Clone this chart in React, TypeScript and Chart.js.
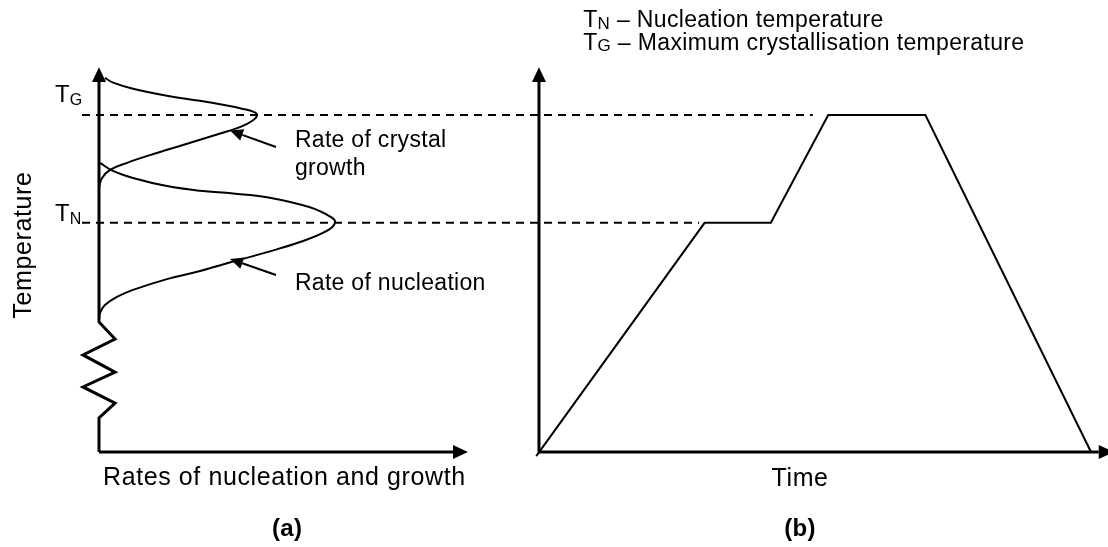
import React, { useEffect, useRef } from "react";
import { Chart, registerables } from "chart.js";

Chart.register(...registerables);

// ---------- data (temperature in arbitrary units, T_G = 100) ----------
const T_N = 68;
const T_G = 100;

// (b) heat-treatment schedule: time vs temperature
const scheduleTime = [-0.5, 30, 42, 52.4, 70, 100];
const scheduleTemp = [-1.2, T_N, T_N, T_G, T_G, 0];

// (a) rate of nucleation (rate, temperature) – bottom to top
const nucleationRate = [0, 0.004, 0.025, 0.076, 0.144, 0.288, 0.428, 0.568, 0.712, 0.852, 0.965, 1.0, 0.985, 0.894, 0.712, 0.568, 0.428, 0.288, 0.144, 0.059, 0.004];
const nucleationTemp = [39.2, 41.2, 43.6, 46.0, 48.1, 51.3, 53.7, 56.5, 59.3, 62.3, 65.6, 68.0, 69.6, 72.6, 75.6, 76.7, 77.5, 78.9, 81.3, 83.4, 85.8];

// (a) rate of crystal growth (rate, temperature) – bottom to top
const growthRate = [0, 0.013, 0.047, 0.119, 0.216, 0.356, 0.5, 0.597, 0.65, 0.67, 0.653, 0.61, 0.542, 0.428, 0.288, 0.144, 0.06, 0.025];
const growthTemp = [78.6, 81.3, 83.7, 85.8, 88.1, 91.1, 94.2, 96.4, 98.3, 100.0, 101.0, 101.8, 102.8, 104.2, 105.7, 107.8, 109.6, 111.0];

// axis break (zig-zag) on the temperature axis of (a)
const breakRate = [0, 0, 0.068, -0.068, 0.068, -0.068, 0.068, 0, 0];
const breakTemp = [0, 10.1, 14.5, 19.3, 23.7, 28.8, 33.5, 38.6, 109.8];

// axis extents
const AXIS_TOP_T = 109.8; // arrow-head base
const AXIS_TIP_T = 114.2;
const RATE_AXIS_END = 1.5;
const RATE_AXIS_TIP = 1.563;
const TIME_AXIS_END = 101.4;
const TIME_AXIS_TIP = 104.2;

// reference lines
const refLeftStart = -0.072; // rate units
const refTG_end = 49.6; // time units
const refTN_end = 29.0;

// pointer arrows [tailRate, tailTemp, tipRate, tipTemp]
const growthPointer = [0.75, 90.5, 0.555, 95.4];
const nucleationPointer = [0.75, 52.5, 0.555, 57.3];

// ---------- scale ranges ----------
const Y_MIN = -28.19;
const Y_MAX = 134.12;
const TIME_MIN = -97.64;
const TIME_MAX = 103.08;
const RATE_MIN = -0.4195;
const RATE_MAX = 4.2754;

const FONT = '"Liberation Sans", Arial, Helvetica, sans-serif';

const zip = (xs: number[], ys: number[]) => xs.map((x, i) => ({ x, y: ys[i] }));

function head(ctx: CanvasRenderingContext2D, bx: number, by: number, tx: number, ty: number, halfW: number) {
  const dx = tx - bx;
  const dy = ty - by;
  const len = Math.hypot(dx, dy) || 1;
  const nx = -dy / len;
  const ny = dx / len;
  ctx.beginPath();
  ctx.moveTo(tx, ty);
  ctx.lineTo(bx + nx * halfW, by + ny * halfW);
  ctx.lineTo(bx - nx * halfW, by - ny * halfW);
  ctx.closePath();
  ctx.fill();
}

function subLabel(
  ctx: CanvasRenderingContext2D,
  x: number,
  y: number,
  main: string,
  sub: string,
  rest: string,
  mainFont: string,
  subFont: string,
  subDy: number,
  spacing: string
) {
  (ctx as any).letterSpacing = spacing;
  ctx.textAlign = "left";
  ctx.textBaseline = "alphabetic";
  ctx.font = mainFont;
  ctx.fillText(main, x, y);
  let w = ctx.measureText(main).width;
  ctx.font = subFont;
  ctx.fillText(sub, x + w, y + subDy);
  w += ctx.measureText(sub).width;
  if (rest) {
    ctx.font = mainFont;
    ctx.fillText(rest, x + w, y);
  }
  (ctx as any).letterSpacing = "0px";
}

function text(
  ctx: CanvasRenderingContext2D,
  s: string,
  x: number,
  y: number,
  font: string,
  align: CanvasTextAlign,
  spacing: string
) {
  (ctx as any).letterSpacing = spacing;
  ctx.font = font;
  ctx.textAlign = align;
  ctx.textBaseline = "alphabetic";
  ctx.fillText(s, x, y);
  (ctx as any).letterSpacing = "0px";
}

const diagramPlugin = {
  id: "diagram",
  beforeDraw(chart: any) {
    const { ctx, width, height } = chart;
    ctx.save();
    ctx.fillStyle = "#ffffff";
    ctx.fillRect(0, 0, width, height);
    ctx.restore();
  },
  afterDatasetsDraw(chart: any) {
    const ctx: CanvasRenderingContext2D = chart.ctx;
    const xr = chart.scales.xr;
    const xt = chart.scales.x;
    const ys = chart.scales.y;
    const R = (v: number) => xr.getPixelForValue(v);
    const X = (v: number) => xt.getPixelForValue(v);
    const Y = (v: number) => ys.getPixelForValue(v);

    ctx.save();
    ctx.fillStyle = "#000";
    ctx.strokeStyle = "#000";

    // axis arrow heads
    head(ctx, R(0), Y(AXIS_TOP_T), R(0), Y(AXIS_TIP_T), 7);
    head(ctx, X(0), Y(AXIS_TOP_T), X(0), Y(AXIS_TIP_T), 7);
    head(ctx, R(RATE_AXIS_END), Y(0), R(RATE_AXIS_TIP), Y(0), 7);
    head(ctx, X(TIME_AXIS_END), Y(0), X(TIME_AXIS_TIP), Y(0), 7);

    // dashed reference lines T_G and T_N
    ctx.lineWidth = 2;
    ctx.setLineDash([8, 6]);
    ctx.beginPath();
    ctx.moveTo(R(refLeftStart), Y(T_G));
    ctx.lineTo(X(refTG_end), Y(T_G));
    ctx.moveTo(R(refLeftStart), Y(T_N));
    ctx.lineTo(X(refTN_end), Y(T_N));
    ctx.stroke();
    ctx.setLineDash([]);

    // pointer arrows
    for (const p of [growthPointer, nucleationPointer]) {
      const tx = R(p[0]), ty = Y(p[1]), hx = R(p[2]), hy = Y(p[3]);
      const dx = hx - tx, dy = hy - ty;
      const L = Math.hypot(dx, dy);
      const bx = hx - (dx / L) * 13, by = hy - (dy / L) * 13;
      ctx.lineWidth = 2;
      ctx.beginPath();
      ctx.moveTo(tx, ty);
      ctx.lineTo(bx, by);
      ctx.stroke();
      head(ctx, bx, by, hx, hy, 6);
    }

    // T_G / T_N labels on (a)
    subLabel(ctx, R(-0.186), Y(T_G) - 12.5, "T", "G", "", `24px ${FONT}`, `16px ${FONT}`, 3, "0px");
    subLabel(ctx, R(-0.186), Y(T_N) - 2, "T", "N", "", `24px ${FONT}`, `16px ${FONT}`, 3, "0px");

    // annotations
    const annFont = `23px ${FONT}`;
    text(ctx, "Rate of crystal", R(0.83), Y(90.5), annFont, "left", "0.3px");
    text(ctx, "growth", R(0.83), Y(82.2), annFont, "left", "0.3px");
    text(ctx, "Rate of nucleation", R(0.83), Y(48.1), annFont, "left", "0.3px");

    // legend
    const lf = `23px ${FONT}`;
    const lsf = `17px ${FONT}`;
    subLabel(ctx, X(8.0), Y(126.1), "T", "N", " \u2013 Nucleation temperature", lf, lsf, 1.5, "0.35px");
    subLabel(ctx, X(8.0), Y(119.3), "T", "G", " \u2013 Maximum crystallisation temperature", lf, lsf, 1.5, "0.35px");

    // axis titles
    const tf = `25px ${FONT}`;
    text(ctx, "Rates of nucleation and growth", R(0.017), Y(-9.8), tf, "left", "0.6px");
    text(ctx, "Time", X(47.3), Y(-10.1), tf, "center", "0.6px");

    ctx.save();
    ctx.translate(R(-0.289), Y(61.4));
    ctx.rotate(-Math.PI / 2);
    text(ctx, "Temperature", 0, 0, tf, "center", "0.6px");
    ctx.restore();

    // panel captions
    const bf = `bold 24px ${FONT}`;
    text(ctx, "(a)", R(0.797), Y(-24.9), bf, "center", "0.3px");
    text(ctx, "(b)", X(47.3), Y(-24.9), bf, "center", "0.3px");

    ctx.restore();
  },
};

export default function App() {
  const ref = useRef<HTMLCanvasElement | null>(null);

  useEffect(() => {
    if (!ref.current) return;
    const base = {
      borderColor: "#000",
      pointRadius: 0,
      pointHoverRadius: 0,
      fill: false,
    };
    const chart = new Chart(ref.current, {
      type: "line",
      data: {
        datasets: [
          { ...base, label: "schedule", xAxisID: "x", yAxisID: "y", data: zip(scheduleTime, scheduleTemp), borderWidth: 2, tension: 0, borderJoinStyle: "miter" },
          { ...base, label: "growth", xAxisID: "xr", yAxisID: "y", data: zip(growthRate, growthTemp), borderWidth: 2, tension: 0.4 },
          { ...base, label: "nucleation", xAxisID: "xr", yAxisID: "y", data: zip(nucleationRate, nucleationTemp), borderWidth: 2, tension: 0.4 },
          { ...base, label: "axisA-T", xAxisID: "xr", yAxisID: "y", data: zip(breakRate, breakTemp), borderWidth: 3, tension: 0, borderJoinStyle: "miter" },
          { ...base, label: "axisA-R", xAxisID: "xr", yAxisID: "y", data: zip([0, RATE_AXIS_END], [0, 0]), borderWidth: 3, tension: 0 },
          { ...base, label: "axisB-T", xAxisID: "x", yAxisID: "y", data: zip([0, 0], [0, AXIS_TOP_T]), borderWidth: 3, tension: 0 },
          { ...base, label: "axisB-t", xAxisID: "x", yAxisID: "y", data: zip([0, TIME_AXIS_END], [0, 0]), borderWidth: 3, tension: 0 },
        ] as any,
      },
      options: {
        animation: false,
        responsive: false,
        devicePixelRatio: 1,
        events: [],
        layout: { padding: 0, autoPadding: false },
        plugins: {
          legend: { display: false },
          title: { display: false },
          tooltip: { enabled: false },
        },
        scales: {
          x: { type: "linear", axis: "x", min: TIME_MIN, max: TIME_MAX, display: false },
          xr: { type: "linear", axis: "x", min: RATE_MIN, max: RATE_MAX, display: false },
          y: { type: "linear", min: Y_MIN, max: Y_MAX, display: false },
        },
      } as any,
      plugins: [diagramPlugin],
    });
    return () => chart.destroy();
  }, []);

  return (
    <div style={{ position: "fixed", left: 0, top: 0, width: 1108, height: 547, background: "#fff" }}>
      <canvas ref={ref} width={1108} height={547} style={{ display: "block", width: 1108, height: 547 }} />
    </div>
  );
}
